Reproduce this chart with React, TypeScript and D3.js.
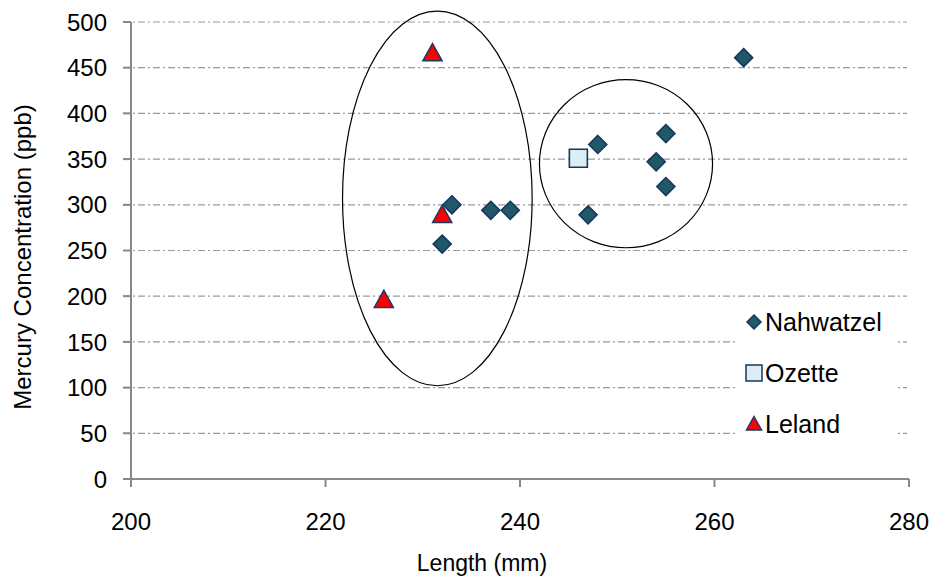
import React from "react";
import * as d3 from "d3";

// series values (length mm, mercury ppb)
const nahwatzelX = [232, 233, 237, 239, 247, 248, 254, 255, 255, 263];
const nahwatzelY = [257, 300, 294, 294, 289, 366, 347, 378, 320, 461];
const ozetteX = [246];
const ozetteY = [351];
const lelandX = [226, 231, 232];
const lelandY = [196, 466, 289];

const xTicks = [200, 220, 240, 260, 280];
const yTicks = [0, 50, 100, 150, 200, 250, 300, 350, 400, 450, 500];

// hand-drawn grouping ellipses in data units: cx, cy, rx, ry
const ellipseCx = [231.5, 250.9];
const ellipseCy = [307, 345];
const ellipseRx = [9.75, 8.9];
const ellipseRy = [205, 92];

const W = 931, H = 579;
const margin = { top: 22, right: 22, bottom: 100, left: 131 };
const innerW = W - margin.left - margin.right;
const innerH = H - margin.top - margin.bottom;
const FONT = "'Liberation Sans', Arial, sans-serif";

const x = d3.scaleLinear().domain([200, 280]).range([0, innerW]);
const y = d3.scaleLinear().domain([0, 500]).range([innerH, 0]);

const diamond = (s: number) => `M0,${-s}L${s},0L0,${s}L${-s},0Z`;
const square = (s: number) => `M${-s},${-s}H${s}V${s}H${-s}Z`;
const triangle = (s: number) => `M0,${-s}L${s},${s * 0.8}L${-s},${s * 0.8}Z`;

const styles = {
  n: { fill: "#215868", stroke: "#17375E" },
  o: { fill: "#DAEEF3", stroke: "#17375E" },
  l: { fill: "#FF0000", stroke: "#1F3864" },
};

function Marker({ kind, cx, cy }: { kind: "n" | "o" | "l"; cx: number; cy: number }) {
  const d = kind === "n" ? diamond(9) : kind === "o" ? square(9) : triangle(9.5);
  return (
    <path
      d={d}
      transform={`translate(${cx},${cy})`}
      fill={styles[kind].fill}
      stroke={styles[kind].stroke}
      strokeWidth={1.6}
    />
  );
}

export default function App() {
  const legend = [
    { kind: "n" as const, label: "Nahwatzel" },
    { kind: "o" as const, label: "Ozette" },
    { kind: "l" as const, label: "Leland" },
  ];
  return (
    <svg width={W} height={H} style={{ position: "absolute", left: 0, top: 0, background: "#fff" }}>
      <g transform={`translate(${margin.left},${margin.top})`} fontFamily={FONT}>
        {/* gridlines */}
        {yTicks.filter(t => t > 0).map(t => (
          <line key={t} x1={-8} x2={innerW - 2} y1={y(t)} y2={y(t)}
            stroke="#9a9a9a" strokeWidth={1.2} strokeDasharray="7,3,2,3" />
        ))}

        {/* axes */}
        <line x1={0} x2={0} y1={0} y2={innerH} stroke="#888" strokeWidth={2} />
        <line x1={0} x2={innerW} y1={innerH} y2={innerH} stroke="#888" strokeWidth={2} />
        {yTicks.map(t => (
          <g key={t}>
            <line x1={-8} x2={0} y1={y(t)} y2={y(t)} stroke="#888" strokeWidth={2} />
            <text x={-24} y={y(t)} dy="0.36em" textAnchor="end" fontSize={24} fill="#000">{t}</text>
          </g>
        ))}
        {xTicks.map(t => (
          <g key={t}>
            <line x1={x(t)} x2={x(t)} y1={innerH} y2={innerH + 8} stroke="#888" strokeWidth={2} />
            <text x={x(t)} y={innerH + 51} textAnchor="middle" fontSize={24} fill="#000">{t}</text>
          </g>
        ))}

        {/* grouping ellipses */}
        {ellipseCx.map((cx, i) => (
          <ellipse key={i} cx={x(cx)} cy={y(ellipseCy[i])}
            rx={x(200 + ellipseRx[i])} ry={innerH - y(ellipseRy[i])}
            fill="none" stroke="#000" strokeWidth={1.2} />
        ))}

        {/* points */}
        {nahwatzelX.map((v, i) => <Marker key={"n" + i} kind="n" cx={x(v)} cy={y(nahwatzelY[i])} />)}
        {ozetteX.map((v, i) => <Marker key={"o" + i} kind="o" cx={x(v)} cy={y(ozetteY[i])} />)}
        {lelandX.map((v, i) => <Marker key={"l" + i} kind="l" cx={x(v)} cy={y(lelandY[i])} />)}

        {/* legend */}
        <rect x={737 - margin.left} y={305 - margin.top} width={161} height={145} fill="#fff" />
        {legend.map((d, i) => (
          <g key={d.label} transform={`translate(${754 - margin.left},${322 - margin.top + i * 51})`}>
            <path
              d={d.kind === "n" ? diamond(7) : d.kind === "o" ? square(8) : triangle(7.5)}
              fill={styles[d.kind].fill} stroke={styles[d.kind].stroke} strokeWidth={1.5}
            />
            <text x={11} dy="0.36em" fontSize={25} fill="#000">{d.label}</text>
          </g>
        ))}

        {/* axis titles */}
        <text x={(482 - margin.left)} y={innerH + 92} textAnchor="middle" fontSize={23} fill="#000">Length (mm)</text>
        <text transform={`translate(${22 - margin.left},${257 - margin.top}) rotate(-90)`}
          textAnchor="middle" dy="0.36em" fontSize={24} fill="#000">Mercury Concentration (ppb)</text>
      </g>
    </svg>
  );
}
